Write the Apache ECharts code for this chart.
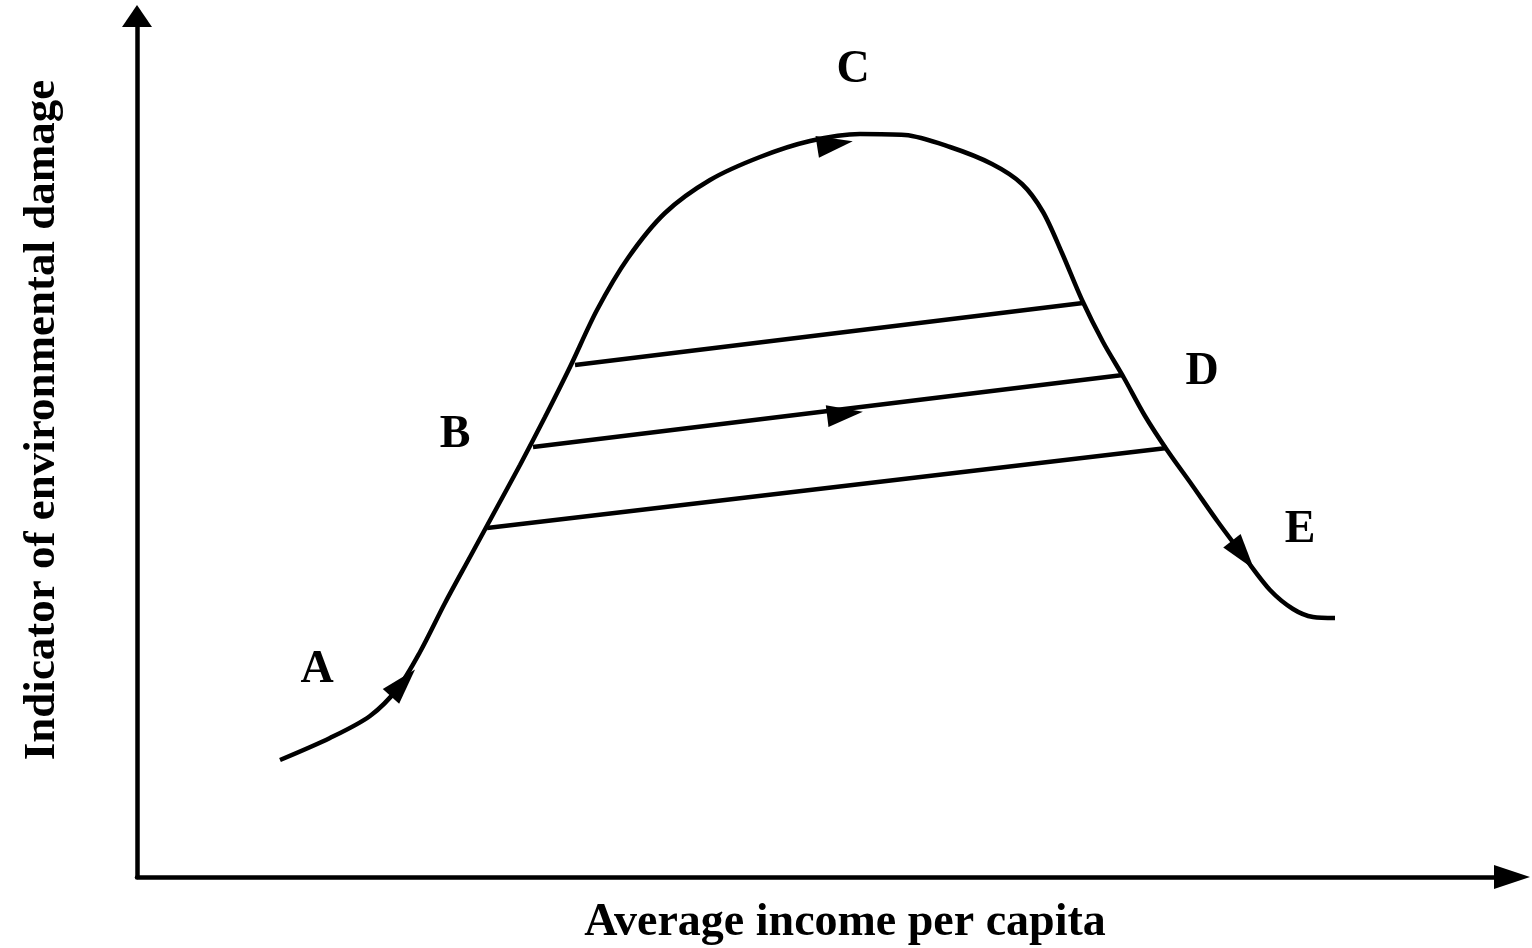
<!DOCTYPE html>
<html>
<head>
<meta charset="utf-8">
<script src="https://cdn.jsdelivr.net/npm/echarts@6/dist/echarts.min.js"></script>
<style>
html,body{margin:0;padding:0;background:#fff;}
#chart{width:1532px;height:948px;}
</style>
</head>
<body>
<div id="chart"></div>
<script>
// Main curve: average income per capita (x) vs environmental damage (y), arbitrary units
var curveX = [14.3,19.3,23.3,26.1,28.3,30.8,33.3,35.8,38.3,40.8,43.3,46.0,49.1,52.8,57.3,62.3,67.3,72.3,76.8,81.3,85.5,88.5,90.6,92.5,94.5,96.6,98.7,100.8,103.0,105.5,108.1,110.8,113.3,115.6,117.6,119.8];
var curveY = [11.7,13.9,16.1,18.9,22.5,27.4,32.0,36.6,41.2,46.0,51.0,56.7,61.9,66.4,69.7,72.0,73.6,74.3,74.2,73.0,71.3,69.3,66.5,62.4,57.7,53.5,49.9,46.1,42.7,39.2,35.5,31.9,28.7,26.8,26.0,25.9];

// Tunnel lines (start and end points)
var tunnelStartX = [43.8, 39.6, 35.0];
var tunnelStartY = [51.2, 43.0, 34.9];
var tunnelEndX   = [94.6, 98.6, 103.0];
var tunnelEndY   = [57.4, 50.2, 42.9];

// Direction arrows along the path
var arrowX = [26.6, 69.8, 110.6, 70.8];
var arrowY = [19.4, 73.3, 32.2, 46.3];
var arrowAngle = [-42, -81, -142, -83];

// Point labels
var labelNames = ['A','B','C','D','E'];
var labelX = [18.0, 31.8, 71.6, 106.5, 116.3];
var labelY = [20.7, 44.2, 80.7, 50.5, 34.7];

var xTitle = 'Average income per capita';
var yTitle = 'Indicator of environmental damage';

function pairs(xs, ys){ return xs.map(function(v,i){ return [v, ys[i]]; }); }

var series = [];
series.push({
  type:'line', data: pairs(curveX, curveY), smooth: 0.3, symbol:'none',
  lineStyle:{color:'#000', width:4.5}, z: 3
});
for (var i = 0; i < tunnelStartX.length; i++) {
  series.push({
    type:'line', data:[[tunnelStartX[i], tunnelStartY[i]],[tunnelEndX[i], tunnelEndY[i]]],
    symbol:'none', lineStyle:{color:'#000', width:4.5}, z: 3
  });
}
series.push({
  type:'scatter',
  data: arrowX.map(function(v,i){ return {value:[v, arrowY[i]], symbolRotate: arrowAngle[i]}; }),
  symbol:'triangle', symbolSize:[22, 36], itemStyle:{color:'#000', opacity:1}, z: 4
});
series.push({
  type:'scatter',
  data: labelNames.map(function(n,i){ return {value:[labelX[i], labelY[i]], name:n}; }),
  symbolSize: 0, itemStyle:{opacity:1},
  label:{show:true, position:'inside', formatter: function(p){ return p.name; },
    fontFamily:'Liberation Serif', fontWeight:'bold', fontSize:46, color:'#000', opacity:1},
  z: 5
});

var chart = echarts.init(document.getElementById('chart'));
chart.setOption({
  backgroundColor:'#fff',
  animation:false,
  grid:{left:137, right:20, top:16, bottom:71},
  xAxis:{type:'value', min:0, max:137.5,
    axisLine:{show:true, symbol:['none','triangle'], symbolSize:[24,36], lineStyle:{color:'#000', width:4.5}},
    axisTick:{show:false}, axisLabel:{show:false}, splitLine:{show:false}},
  yAxis:{type:'value', min:0, max:86.1,
    axisLine:{show:true, symbol:['none','triangle'], symbolSize:[30,22], lineStyle:{color:'#000', width:4.5}},
    axisTick:{show:false}, axisLabel:{show:false}, splitLine:{show:false}},
  graphic:[
    {type:'text', x:845, y:923, style:{text:xTitle, fontFamily:'Liberation Serif', fontWeight:'bold', fontSize:46, fill:'#000', textAlign:'center', textVerticalAlign:'middle'}},
    {type:'text', x:42, y:420, rotation:Math.PI/2, style:{text:yTitle, fontFamily:'Liberation Serif', fontWeight:'bold', fontSize:45, fill:'#000', textAlign:'center', textVerticalAlign:'middle'}}
  ],
  series: series
});
</script>
</body>
</html>
